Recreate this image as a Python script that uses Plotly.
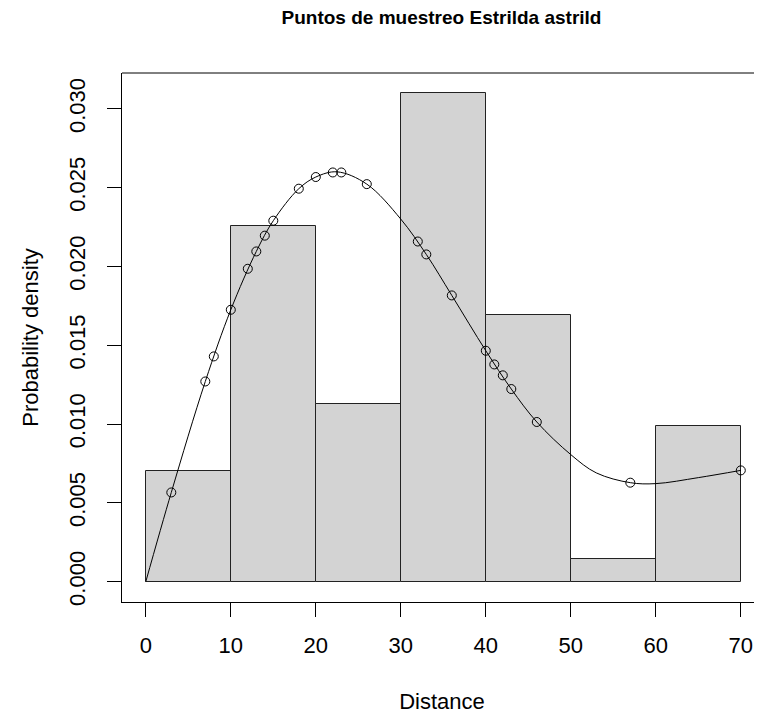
import plotly.graph_objects as go

# Histogram (density) of distances
bin_left = [0, 10, 20, 30, 40, 50, 60]
bin_density = [0.00704, 0.02254, 0.01127, 0.03099, 0.01690, 0.00141, 0.00986]

# Sample points drawn on the fitted curve
point_dist = [3, 7, 8, 10, 12, 13, 14, 15, 18, 20, 22, 23, 26, 32, 33, 36, 40, 41, 42, 43, 46, 57, 70]
point_dens = [0.00566, 0.0127, 0.01429, 0.01725, 0.01985, 0.02095, 0.02195, 0.0229, 0.02493, 0.02567,
              0.02596, 0.02596, 0.02522, 0.02158, 0.02076, 0.01816, 0.01465, 0.01378, 0.01309, 0.01222,
              0.01013, 0.00628, 0.00706]

# Fitted curve
curve_x = [0, 3, 7, 10, 13, 15, 18, 20, 22.5, 26, 30, 33, 36, 40, 43, 46, 50, 53, 57, 60, 65, 70]
curve_y = [0, 0.00566, 0.0127, 0.01725, 0.02095, 0.0229, 0.02493, 0.02567, 0.0260, 0.02522, 0.0230,
           0.02076, 0.01816, 0.01465, 0.01222, 0.01013, 0.00806, 0.0069, 0.00628, 0.00622, 0.0066, 0.00706]

x_ticks = [0, 10, 20, 30, 40, 50, 60, 70]
y_ticks = [0.000, 0.005, 0.010, 0.015, 0.020, 0.025, 0.030]
y_tick_text = ["0.000", "0.005", "0.010", "0.015", "0.020", "0.025", "0.030"]

FONT = "Liberation Sans, Arial, sans-serif"

W, H = 754, 711  # page body has an 8px margin

fig = go.Figure()
fig.add_trace(go.Bar(
    x=bin_left, y=bin_density, width=[10] * len(bin_left), offset=0,
    marker=dict(color="#D3D3D3", line=dict(color="#222222", width=1)),
    hoverinfo="skip", showlegend=False,
))
fig.add_trace(go.Scatter(
    x=curve_x, y=curve_y, mode="lines",
    line=dict(color="black", width=1, shape="spline", smoothing=1.0),
    showlegend=False, hoverinfo="skip",
))
fig.add_trace(go.Scatter(
    x=point_dist, y=point_dens, mode="markers",
    marker=dict(symbol="circle-open", size=9, color="black", line=dict(width=1, color="black")),
    showlegend=False,
))

fig.update_layout(
    width=W, height=H,
    margin=dict(l=114, r=0, t=65, b=117, pad=0),
    paper_bgcolor="white", plot_bgcolor="white",
    bargap=0,
    font=dict(family=FONT, color="black"),
    title=dict(text="<b>Puntos de muestreo Estrilda astrild</b>", x=(441.5 - 8) / W, xanchor="center",
               y=1 - 9.5 / H, yanchor="middle", font=dict(size=19, family=FONT, color="black")),
    xaxis=dict(
        range=[-2.8, -2.8 + 640 / 8.5], tickvals=x_ticks, ticks="outside", ticklen=14, tickwidth=1,
        tickcolor="black", showgrid=False, zeroline=False, showline=True, linecolor="black",
        linewidth=1, mirror=False, tickfont=dict(size=22, family=FONT), ticklabelstandoff=10,
        title=dict(text="Distance", font=dict(size=22, family=FONT), standoff=36),
    ),
    yaxis=dict(
        range=[-0.00129, 0.03227], tickvals=y_ticks, ticktext=y_tick_text, ticks="outside", ticklen=14,
        tickwidth=1, tickcolor="black", tickangle=-90, showgrid=False, zeroline=False, showline=True,
        linecolor="black", linewidth=1, tickfont=dict(size=22, family=FONT), ticklabelstandoff=13,
        title=dict(text="Probability density", font=dict(size=22, family=FONT), standoff=20),
    ),
    shapes=[dict(type="line", xref="paper", yref="paper", x0=0, x1=1, y0=1, y1=1,
                 line=dict(color="black", width=1))],
)

fig.write_html("out.html")
